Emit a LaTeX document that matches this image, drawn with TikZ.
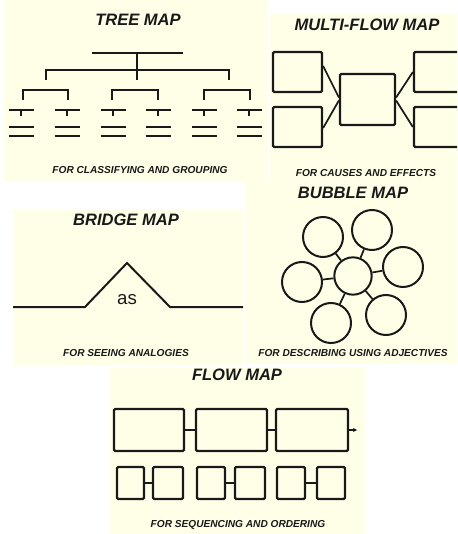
\documentclass[tikz,border=0pt]{standalone}
\usepackage{fontspec}
\setmainfont{Liberation Sans}
\usetikzlibrary{calc,fit,arrows.meta}
\definecolor{cream}{RGB}{255,255,232}
\definecolor{ink}{RGB}{25,25,25}
\begin{document}
\begin{tikzpicture}[x=0.75pt,y=-0.75pt,
  panel/.style={fill=cream,draw=none},
  title/.style={font=\bfseries\itshape\fontsize{12.4}{14}\selectfont,text=ink,inner sep=0},
  caption/.style={font=\bfseries\itshape\fontsize{7.6}{9}\selectfont,text=ink,inner sep=0},
  ln/.style={line width=1.5pt,draw=ink},
  box/.style={draw=ink,line width=1.7pt,rounded corners=1pt,inner sep=0,fill=none},
  bub/.style={draw=ink,line width=1.5pt,circle,inner sep=0},
  con/.style={line width=1.3pt,draw=ink}
]
\clip (0,0) rectangle (457,534);
\fill[white] (0,0) rectangle (457,534);
% panels
\fill[panel] (4,0) rectangle (267,182);
\fill[panel] (270,13) rectangle (457,182);
\fill[panel] (245,182) rectangle (457,364);
\fill[panel] (13,210) rectangle (243,365);
\fill[panel] (109,367) rectangle (365,534);

% ---------- TREE MAP ----------
\node[title] (tt) at (138,20) {TREE MAP};
\draw[ln] (92,53) -- (183,53);
\draw[ln] (137,53) -- (137,80);
\draw[ln] (46,80) -- (46,70) -- (229,70) -- (229,80);
\foreach \a/\b in {23/68,112/158,204/250}{
  \draw[ln] (\a,100) -- (\a,90) -- (\b,90) -- (\b,100);
}
\foreach \c in {21,67,113,158,204,249}{
  \draw[ln] (\c-12.5,110) -- (\c+12.5,110);
  \draw[ln] (\c,110) -- (\c,116);
  \draw[ln] (\c-12.5,127) -- (\c+12.5,127);
  \draw[ln] (\c-12.5,136) -- (\c+12.5,136);
}
\node[caption] (tc) at (140,170) {FOR CLASSIFYING AND GROUPING};

% ---------- MULTI-FLOW MAP ----------
\node[title] (mt) at (367,25) {MULTI-FLOW MAP};
\node[box,fit={(273,52) (322,92)}] (L1) {};
\node[box,fit={(273,107) (322,147)}] (L2) {};
\node[box,fit={(340,74) (395,125)}] (C) {};
\node[box,fit={(414,52) (475,92)}] (R1) {};
\node[box,fit={(414,107) (475,147)}] (R2) {};
\draw[con] ($(L1.east)+(0,-6)$) -- ($(C.west)+(0,-2)$);
\draw[con] ($(L2.east)+(0,1)$) -- ($(C.west)+(0,1)$);
\draw[con] ($(C.east)+(0,-2)$) -- (R1.west);
\draw[con] ($(C.east)+(0,1)$) -- (R2.west);
\node[caption] (mc) at (366,173) {FOR CAUSES AND EFFECTS};

% ---------- BRIDGE MAP ----------
\node[title] (bt) at (126,220) {BRIDGE MAP};
\draw[ln] (13,307) -- (85,307) -- (127,263) -- (170,307) -- (243,307);
\node[font=\fontsize{14}{16}\selectfont,text=ink,inner sep=0] (as) at (127,300) {as};
\node[caption] (bc) at (126,353) {FOR SEEING ANALOGIES};

% ---------- BUBBLE MAP ----------
\node[title] (ut) at (353,193) {BUBBLE MAP};
\node[bub,minimum size=28pt] (B0) at (353,276) {};
\node[bub,minimum size=30pt] (B1) at (323,237) {};
\node[bub,minimum size=30pt] (B2) at (372,230) {};
\node[bub,minimum size=30pt] (B3) at (403,267) {};
\node[bub,minimum size=30pt] (B4) at (386,315) {};
\node[bub,minimum size=30pt] (B5) at (331,323) {};
\node[bub,minimum size=30pt] (B6) at (302,282) {};
\foreach \i in {1,...,6}{\draw[con] (B0) -- (B\i);}
\node[caption] (uc) at (353,353) {FOR DESCRIBING USING ADJECTIVES};

% ---------- FLOW MAP ----------
\node[title] (ft) at (237,375) {FLOW MAP};
\node[box,fit={(114,409) (184,451)}] (F1) {};
\node[box,fit={(196,409) (267,451)}] (F2) {};
\node[box,fit={(276,409) (348,451)}] (F3) {};
\coordinate (Fend) at (357,430);
\draw[con] (F1) -- (F2);
\draw[con] (F2) -- (F3);
\draw[con,-{Stealth[length=3pt,width=3pt]}] (F3.east) -- (Fend);
\node[box,fit={(117,467) (144,499)}] (S1) {};
\node[box,fit={(153,467) (183,499)}] (S2) {};
\node[box,fit={(197,467) (225,499)}] (S3) {};
\node[box,fit={(235,467) (265,499)}] (S4) {};
\node[box,fit={(277,467) (305,499)}] (S5) {};
\node[box,fit={(317,467) (345,499)}] (S6) {};
\draw[con] (S1) -- (S2);
\draw[con] (S3) -- (S4);
\draw[con] (S5) -- (S6);
\node[caption] (fc) at (238,525) {FOR SEQUENCING AND ORDERING};
\end{tikzpicture}
\end{document}
